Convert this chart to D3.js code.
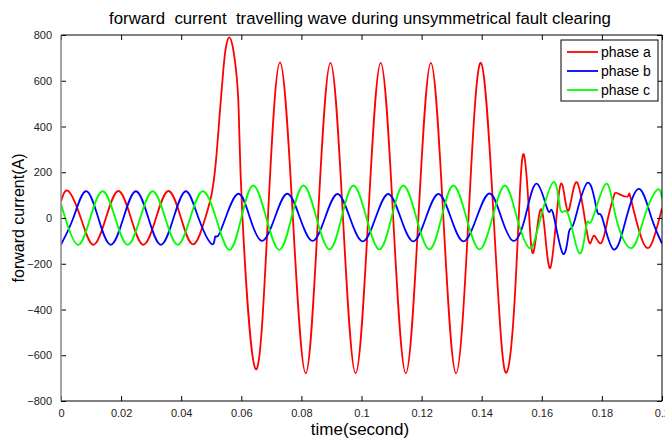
<!DOCTYPE html>
<html>
<head>
<meta charset="utf-8">
<script src="https://cdn.jsdelivr.net/npm/d3@7/dist/d3.min.js"></script>
<style>
  body { margin: 0; background: #fff; }
  svg { display: block; font-family: "Liberation Sans", Arial, sans-serif; }
</style>
</head>
<body>
<svg id="chart" width="665" height="440"></svg>
<script>
// Axis ticks
const timeTicks = [0, 0.02, 0.04, 0.06, 0.08, 0.1, 0.12, 0.14, 0.16, 0.18, 0.2];
const currentTicks = [-800, -600, -400, -200, 0, 200, 400, 600, 800];

// Legend entries
const phaseNames = ["phase a", "phase b", "phase c"];
const phaseColors = ["#ff0000", "#0000ff", "#00ff00"];

// Forward current samples per phase: [time (s), current (A)] at peaks, troughs and crossings
const phaseA = [
  [0, 72], [0.00243, 118], [0.00659, 0], [0.01075, -117], [0.01494, 0], [0.01910, 118],
  [0.02329, 0], [0.02742, -117], [0.03161, 0], [0.03577, 118], [0.03993, 0], [0.04406, -115],
  [0.04802, 0], [0.05015, 106], [0.05158, 252], [0.05291, 471], [0.05401, 647], [0.05491, 749],
  [0.05601, 790], [0.05714, 749], [0.05824, 647], [0.05913, 471], [0.06040, 0], [0.06479, -661],
  [0.06885, 0], [0.07288, 680], [0.07717, 0], [0.08143, -679], [0.08552, 0], [0.08968, 678],
  [0.09384, 0], [0.09804, -679], [0.10223, 0], [0.10639, 678], [0.11055, 0], [0.11474, -679],
  [0.11894, 0], [0.12309, 678], [0.12725, 0], [0.13145, -679], [0.13561, 0], [0.13977, 678],
  [0.14399, 0], [0.14658, -548], [0.14825, -676], [0.14992, -548], [0.15141, -250], [0.15275, 120],
  [0.15401, 278], [0.15557, 60], [0.15724, -150], [0.16000, 36], [0.16283, -218], [0.16606, 138],
  [0.16865, 31], [0.17171, 156], [0.17537, -87], [0.17720, -78], [0.17970, -110], [0.18203, 0],
  [0.18386, 91], [0.18519, 108], [0.18852, 94], [0.18968, 82], [0.19401, -115], [0.19750, -78],
  [0.2, 42]
];

const phaseB = [
  [0, -116], [0.00409, 0], [0.00825, 117], [0.01241, 0], [0.01657, -117], [0.02077, 0],
  [0.02493, 117], [0.02908, 0], [0.03324, -117], [0.03744, 0], [0.04160, 117], [0.04576, 0],
  [0.05008, -113], [0.05125, -84], [0.05225, -78], [0.05474, 0], [0.05900, 106], [0.06290, 0],
  [0.06689, -100], [0.07111, 0], [0.07531, 106], [0.07953, 0], [0.08373, -100], [0.08785, 0],
  [0.09201, 105], [0.09617, 0], [0.10043, -102], [0.10466, 0], [0.10889, 105], [0.11305, 0],
  [0.11724, -102], [0.12140, 0], [0.12559, 105], [0.12978, 0], [0.13394, -102], [0.13827, 0],
  [0.14260, 107], [0.14659, 0], [0.15052, -100], [0.15441, 0], [0.15830, 150], [0.16206, 32],
  [0.16373, 22], [0.16699, -155], [0.16905, -60], [0.17072, -20], [0.17521, 154], [0.17837, 32],
  [0.18003, 4], [0.18386, -137], [0.18812, 0], [0.19245, 127], [0.19651, 0], [0.2, -112]
];

const phaseC = [
  [0, 62], [0.00140, 0], [0.00556, -117], [0.00972, 0], [0.01388, 117], [0.01804, 0],
  [0.02220, -117], [0.02636, 0], [0.03052, 117], [0.03468, 0], [0.03884, -117], [0.04300, 0],
  [0.04715, 117], [0.05158, 0], [0.05601, -139], [0.06000, 0], [0.06399, 142], [0.06832, 0],
  [0.07265, -139], [0.07667, 0], [0.08070, 142], [0.08502, 0], [0.08935, -137], [0.09334, 0],
  [0.09734, 142], [0.10166, 0], [0.10596, -137], [0.10995, 0], [0.11394, 142], [0.11827, 0],
  [0.12260, -137], [0.12659, 0], [0.13058, 142], [0.13494, 0], [0.13930, -137], [0.14353, 0],
  [0.14775, 142], [0.15175, 0], [0.15574, -130], [0.15890, -35], [0.16389, 157], [0.16622, 35],
  [0.16882, 15], [0.17255, -155], [0.17494, -25], [0.17661, -11], [0.18120, 148], [0.18453, 10],
  [0.18968, -132], [0.19401, 0], [0.19834, 123], [0.2, 85]
];

const phases = [phaseA, phaseB, phaseC];

// Layout
const W = 665, H = 440;
const plot = { left: 61, right: 662, top: 35, bottom: 401 };

const svg = d3.select("#chart");

const x = d3.scaleLinear().domain([0, 0.2]).range([plot.left, plot.right]);
const y = d3.scaleLinear().domain([-800, 800]).range([plot.bottom, plot.top]);

svg.append("rect").attr("width", W).attr("height", H).attr("fill", "#fff");

// Clip to the plotting box
svg.append("clipPath").attr("id", "plotClip")
  .append("rect")
  .attr("x", plot.left).attr("y", plot.top)
  .attr("width", plot.right - plot.left).attr("height", plot.bottom - plot.top);

// Waveforms
const line = d3.line()
  .x(d => x(d[0]))
  .y(d => y(d[1]))
  .curve(d3.curveNatural);

svg.append("g").attr("clip-path", "url(#plotClip)")
  .selectAll("path")
  .data(phases)
  .join("path")
  .attr("d", line)
  .attr("fill", "none")
  .attr("stroke", (d, i) => phaseColors[i])
  .attr("stroke-width", 1.8)
  .attr("stroke-linejoin", "round");

// Axes with inward ticks on all four sides
const tickFmt = d => d3.format("")(+d.toFixed(2));

const xBottom = d3.axisBottom(x).tickValues(timeTicks).tickSizeInner(-5).tickSizeOuter(0)
  .tickPadding(8).tickFormat(tickFmt);
const xTop = d3.axisTop(x).tickValues(timeTicks).tickSizeInner(-5).tickSizeOuter(0).tickFormat("");
const yLeft = d3.axisLeft(y).tickValues(currentTicks).tickSizeInner(-5).tickSizeOuter(0)
  .tickPadding(9).tickFormat(d3.format(""));
const yRight = d3.axisRight(y).tickValues(currentTicks).tickSizeInner(-5).tickSizeOuter(0).tickFormat("");

function styleAxis(g) {
  g.select(".domain").remove();
  g.selectAll(".tick line").attr("stroke", "#000").attr("stroke-width", 1);
  g.selectAll(".tick text")
    .attr("fill", "#222")
    .attr("font-size", 11)
    .attr("font-family", "\"Liberation Sans\", Arial, sans-serif");
}

svg.append("g").attr("transform", `translate(0,${plot.bottom})`).call(xBottom).call(styleAxis);
svg.append("g").attr("transform", `translate(0,${plot.top})`).call(xTop).call(styleAxis);
svg.append("g").attr("transform", `translate(${plot.left},0)`).call(yLeft).call(styleAxis);
svg.append("g").attr("transform", `translate(${plot.right},0)`).call(yRight).call(styleAxis);

// Frame
svg.append("line").attr("x1", plot.left).attr("x2", plot.right).attr("y1", plot.top).attr("y2", plot.top)
  .attr("stroke", "#000");
svg.append("line").attr("x1", plot.left).attr("x2", plot.right).attr("y1", plot.bottom).attr("y2", plot.bottom)
  .attr("stroke", "#000");
svg.append("line").attr("x1", plot.right).attr("x2", plot.right).attr("y1", plot.top).attr("y2", plot.bottom)
  .attr("stroke", "#000");
svg.append("line").attr("x1", plot.left).attr("x2", plot.left).attr("y1", plot.top).attr("y2", plot.bottom)
  .attr("stroke", "#888").attr("stroke-width", 1.5);

// Title and axis labels
svg.append("text")
  .attr("x", 360).attr("y", 24)
  .attr("text-anchor", "middle")
  .attr("font-size", 16.8)
  .style("white-space", "pre")
  .text("forward  current  travelling wave during unsymmetrical fault clearing");

svg.append("text")
  .attr("x", 360).attr("y", 435)
  .attr("text-anchor", "middle")
  .attr("font-size", 17)
  .text("time(second)");

svg.append("text")
  .attr("transform", `translate(24,${(plot.top + plot.bottom) / 2}) rotate(-90)`)
  .attr("text-anchor", "middle")
  .attr("font-size", 16)
  .text("forward current(A)");

// Legend
const legend = svg.append("g").attr("transform", "translate(561,40)");
legend.append("rect")
  .attr("width", 97).attr("height", 61)
  .attr("fill", "#fff").attr("stroke", "#000").attr("stroke-width", 1);
const rows = legend.selectAll("g.row").data(phaseNames).join("g")
  .attr("class", "row")
  .attr("transform", (d, i) => `translate(0,${12 + i * 19})`);
rows.append("line")
  .attr("x1", 6).attr("x2", 37)
  .attr("stroke", (d, i) => phaseColors[i]).attr("stroke-width", 1.8);
rows.append("text")
  .attr("x", 40).attr("dy", "0.36em")
  .attr("font-size", 14)
  .text(d => d);
</script>
</body>
</html>
